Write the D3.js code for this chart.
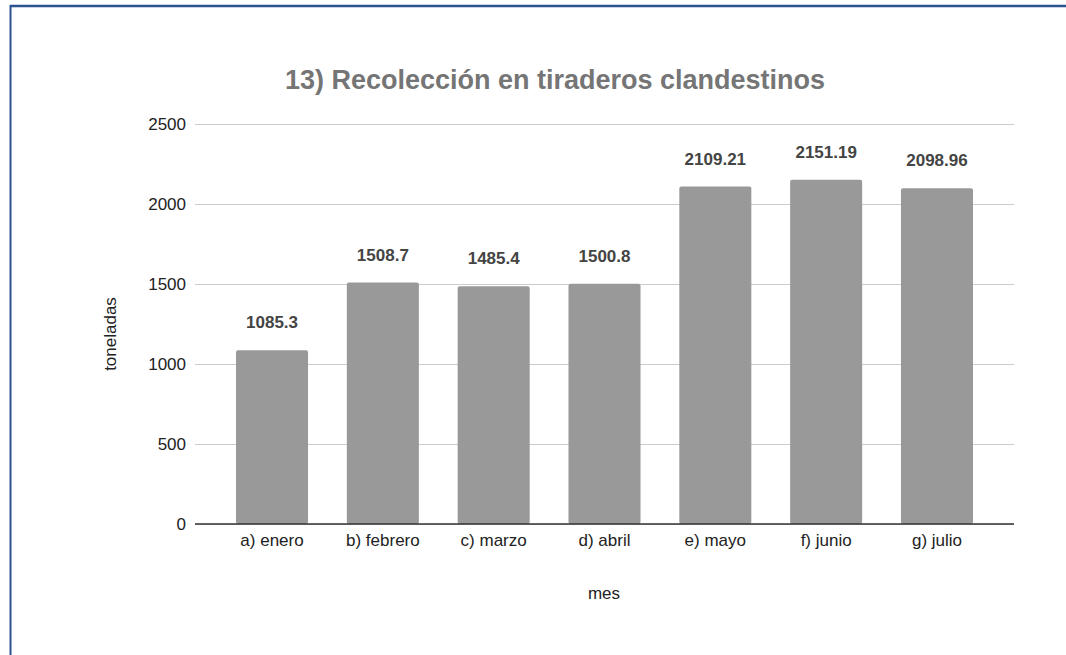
<!DOCTYPE html>
<html>
<head>
<meta charset="utf-8">
<script src="https://cdn.jsdelivr.net/npm/d3@7"></script>
<style>
  body { margin: 0; background: #fff; }
  svg { display: block; font-family: 'Liberation Sans', Arial, sans-serif; }
</style>
</head>
<body>
<div id="chart"></div>
<script>
const months = ['a) enero', 'b) febrero', 'c) marzo', 'd) abril', 'e) mayo', 'f) junio', 'g) julio']
const tons = [1085.3, 1508.7, 1485.4, 1500.8, 2109.21, 2151.19, 2098.96]
const yTicks = [0, 500, 1000, 1500, 2000, 2500]

const W = 1066, H = 655
const MARGIN = { TOP: 124, BOTTOM: 131, LEFT: 195, RIGHT: 52 }

const svg = d3.select('#chart').append('svg')
    .attr('width', W)
    .attr('height', H)

// frame lines (top + left)
svg.append('line')
    .attr('x1', 10).attr('x2', W).attr('y1', 6).attr('y2', 6)
    .attr('stroke', '#2c5290').attr('stroke-width', 2.5)
svg.append('line')
    .attr('x1', 10.5).attr('x2', 10.5).attr('y1', 5).attr('y2', H)
    .attr('stroke', '#2c5290').attr('stroke-width', 2)

const x = d3.scaleBand()
    .domain(months)
    .range([MARGIN.LEFT, W - MARGIN.RIGHT])
    .paddingInner(0.35)
    .paddingOuter(0.37)

const y = d3.scaleLinear()
    .domain([0, 2500])
    .range([H - MARGIN.BOTTOM, MARGIN.TOP])

// gridlines + y labels
const yAxis = svg.append('g')
    .attr('transform', `translate(${MARGIN.LEFT}, 0)`)
    .call(d3.axisLeft(y).tickValues(yTicks).tickFormat(d3.format('d'))
        .tickSize(-(W - MARGIN.LEFT - MARGIN.RIGHT)).tickPadding(9))
yAxis.select('.domain').remove()
yAxis.selectAll('.tick line').attr('stroke', '#cccccc')
yAxis.selectAll('.tick text')
    .attr('fill', '#222').style('font-size', '17px')

// bars
svg.selectAll('rect.bar')
    .data(tons)
    .enter().append('rect')
        .attr('class', 'bar')
        .attr('x', (d, i) => x(months[i]))
        .attr('y', d => y(d))
        .attr('width', x.bandwidth())
        .attr('height', d => y(0) - y(d))
        .attr('rx', 2)
        .attr('fill', '#999999')

// value labels
svg.selectAll('text.val')
    .data(tons)
    .enter().append('text')
        .attr('class', 'val')
        .attr('x', (d, i) => x(months[i]) + x.bandwidth() / 2)
        .attr('y', d => y(d) - 22)
        .attr('text-anchor', 'middle')
        .attr('fill', '#444')
        .style('font-size', '17px')
        .style('font-weight', 'bold')
        .text(d => d)

// x axis
const xAxis = svg.append('g')
    .attr('transform', `translate(0, ${y(0)})`)
    .call(d3.axisBottom(x).tickSize(0).tickPadding(10))
xAxis.select('.domain')
    .attr('d', `M${MARGIN.LEFT},0H${W - MARGIN.RIGHT}`)
    .attr('stroke', '#333').attr('stroke-width', 1.3)
xAxis.selectAll('.tick text')
    .attr('fill', '#222').style('font-size', '17px')

// titles
svg.append('text')
    .attr('x', 555)
    .attr('y', 89)
    .attr('text-anchor', 'middle')
    .attr('fill', '#757575')
    .style('font-size', '27px')
    .style('font-weight', 'bold')
    .text('13) Recolección en tiraderos clandestinos')

svg.append('text')
    .attr('x', 604)
    .attr('y', 599)
    .attr('text-anchor', 'middle')
    .attr('fill', '#222')
    .style('font-size', '17px')
    .text('mes')

svg.append('text')
    .attr('x', -334)
    .attr('y', 116)
    .attr('transform', 'rotate(-90)')
    .attr('text-anchor', 'middle')
    .attr('fill', '#222')
    .style('font-size', '17px')
    .text('toneladas')
</script>
</body>
</html>
